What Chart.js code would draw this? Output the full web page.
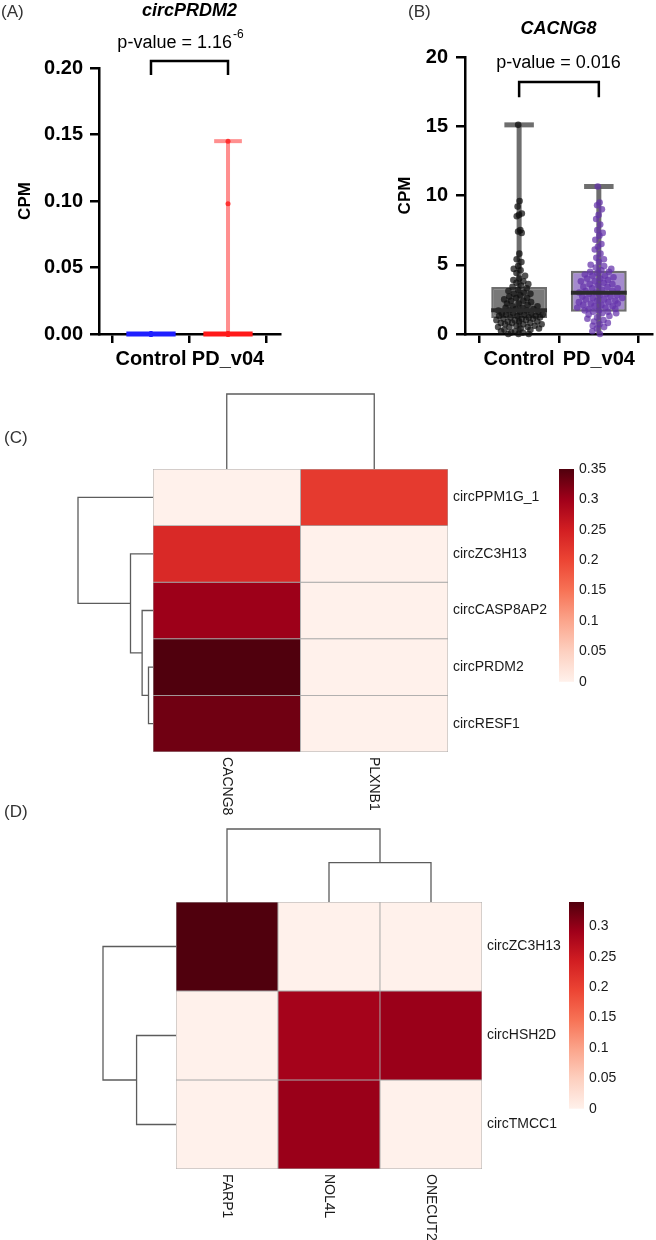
<!DOCTYPE html>
<html lang="en">
<head>
<meta charset="UTF-8">
<title>circRNA expression and correlation heatmaps</title>
<script src="https://cdn.jsdelivr.net/npm/chart.js"></script>
<style>
  body { margin: 0; background: #fff; font-family: "Liberation Sans", Arial, sans-serif; }
  #page { position: relative; width: 656px; height: 1240px; overflow: hidden; }
  canvas { position: absolute; }
  .tag { position: absolute; font-size: 17px; line-height: 20px; color: #333; }
</style>
</head>
<body>
<div id="page">
  <canvas id="chartA" width="330" height="390" style="left:0;top:0"></canvas>
  <canvas id="chartB" width="326" height="390" style="left:330px;top:0"></canvas>
  <canvas id="chartC" width="656" height="440" style="left:0;top:380px"></canvas>
  <canvas id="chartD" width="656" height="420" style="left:0;top:820px"></canvas>
  <div class="tag" style="left:1px;top:2px">(A)</div>
  <div class="tag" style="left:408px;top:2px">(B)</div>
  <div class="tag" style="left:4px;top:428px">(C)</div>
  <div class="tag" style="left:4px;top:802px">(D)</div>
</div>
<script>
Chart.defaults.font.family = '"Liberation Sans", Arial, sans-serif';
Chart.defaults.color = '#000';
const FONT = '"Liberation Sans", Arial, sans-serif';

const groups = ['Control', 'PD_v04'];

// (A) circPRDM2 CPM per sample
const controlA = [0, 0, 0, 0, 0, 0, 0, 0, 0, 0, 0, 0];
const pdA = [0, 0, 0, 0, 0, 0, 0, 0, 0, 0, 0.098, 0.145];
const q1A = [0, 0];
const medA = [0, 0];
const q3A = [0, 0];
const minA = [0, 0];
const maxA = [0, 0.145];
const yTicksA = [0, 0.05, 0.1, 0.15, 0.2];
const bracketA = [0.1947, 0.2053];

// (B) CACNG8 CPM per sample
const controlB = [15.1, 9.6, 9.2, 8.7, 8.6, 8.5, 7.5, 7.4, 7.3, 5.8, 5.4, 5.2, 4.9, 4.7, 4.6,
  4.4, 4.2, 4.0, 3.9, 3.8, 3.7, 3.6, 3.5, 3.4, 3.3, 3.2, 3.1, 3.0, 2.9, 2.9, 2.8, 2.7, 2.6,
  2.6, 2.5, 2.4, 2.4, 2.3, 2.2, 2.2, 2.1, 2.0, 2.0, 1.9, 1.9, 1.8, 1.8, 1.7, 1.7, 1.7, 1.6,
  1.6, 1.5, 1.5, 1.5, 1.4, 1.4, 1.4, 1.3, 1.3, 1.3, 1.2, 1.2, 1.2, 1.1, 1.1, 1.1, 1.0, 1.0,
  1.0, 0.9, 0.9, 0.9, 0.8, 0.8, 0.8, 0.7, 0.7, 0.7, 0.6, 0.6, 0.5, 0.5, 0.5, 0.4, 0.4, 0.3,
  0.3, 0.2, 0.2, 0.1, 0.1, 0.0, 0.0, 0.0];
const pdB = [10.65, 9.5, 9.3, 9.0, 8.6, 8.3, 7.9, 7.5, 7.3, 7.1, 6.8, 6.5, 6.3, 6.1, 5.8, 5.5,
  5.4, 5.2, 5.0, 4.9, 4.8, 4.7, 4.6, 4.5, 4.5, 4.4, 4.3, 4.2, 4.2, 4.1, 4.0, 4.0, 3.9, 3.8,
  3.8, 3.7, 3.6, 3.6, 3.5, 3.4, 3.4, 3.3, 3.3, 3.2, 3.1, 3.1, 3.0, 3.0, 2.9, 2.9, 2.8, 2.8,
  2.7, 2.7, 2.6, 2.6, 2.5, 2.5, 2.4, 2.4, 2.3, 2.3, 2.2, 2.2, 2.1, 2.1, 2.0, 2.0, 1.9, 1.9,
  1.8, 1.8, 1.7, 1.7, 1.6, 1.6, 1.5, 1.5, 1.4, 1.3, 1.2, 1.1, 1.0, 0.9, 0.8, 0.7, 0.6, 0.5,
  0.4, 0.2, 0.0];
const q1B = [1.15, 1.6];
const medB = [1.72, 2.98];
const q3B = [3.39, 4.57];
const minB = [0, 0];
const maxB = [15.1, 10.65];
const yTicksB = [0, 5, 10, 15, 20];
const bracketB = [17.1, 18.2];

// (C) correlation heatmap
const colsC = ['CACNG8', 'PLXNB1'];
const rowsC = ['circPPM1G_1', 'circZC3H13', 'circCASP8AP2', 'circPRDM2', 'circRESF1'];
const valuesC = [
  [0, 0.214],
  [0.236, 0],
  [0.302, 0],
  [0.350, 0],
  [0.330, 0]
];
// hclust style merges: negative = leaf, positive = earlier merge
const rowMergeC = [[-4, -5], [-3, 1], [-2, 2], [-1, 3]];
const rowHeightC = [0.06, 0.145, 0.30, 1];
const colMergeC = [[-1, -2]];
const colHeightC = [1];
const keyTicksC = [0, 0.05, 0.1, 0.15, 0.2, 0.25, 0.3, 0.35];

// (D) correlation heatmap
const colsD = ['FARP1', 'NOL4L', 'ONECUT2'];
const rowsD = ['circZC3H13', 'circHSH2D', 'circTMCC1'];
const valuesD = [
  [0.340, 0, 0],
  [0, 0.287, 0.295],
  [0, 0.295, 0]
];
const rowMergeD = [[-2, -3], [-1, 1]];
const rowHeightD = [0.54, 1];
const colMergeD = [[-2, -3], [-1, 1]];
const colHeightD = [0.54, 1];
const keyTicksD = [0, 0.05, 0.1, 0.15, 0.2, 0.25, 0.3];

const heatStops = ['#FFF1EB', '#FDD0C0', '#FBA58C', '#F77356', '#EC4534', '#D21E22', '#A0001A', '#50000D'];

function hexRgb(h) {
  return [1, 3, 5].map(i => parseInt(h.slice(i, i + 2), 16));
}

function heatColor(f) {
  const t = Math.max(0, Math.min(1, f)) * (heatStops.length - 1);
  const i = Math.min(Math.floor(t), heatStops.length - 2);
  const a = hexRgb(heatStops[i]), b = hexRgb(heatStops[i + 1]), k = t - i;
  const c = a.map((v, j) => Math.round(v + (b[j] - v) * k));
  return `rgb(${c[0]},${c[1]},${c[2]})`;
}

// sideways spread: wider where many values sit close together
function spreadOffsets(values, maxHalf, band) {
  return values.map((v, i) => {
    const crowd = values.filter(w => Math.abs(w - v) <= band).length;
    const half = Math.min(maxHalf, crowd * maxHalf / 25);
    return half * (((i * 0.618034) % 1) * 2 - 1);
  });
}

// title and p-value over the plot
function headerPlugin(h) {
  return {
    id: 'header',
    afterDraw(chart) {
      const { ctx, chartArea } = chart;
      const mid = (chartArea.left + chartArea.right) / 2;
      ctx.save();
      ctx.fillStyle = '#000';
      ctx.textBaseline = 'middle';
      ctx.textAlign = 'center';
      ctx.font = 'italic bold 18px ' + FONT;
      ctx.fillText(h.title, mid, h.titleY);
      ctx.font = '18px ' + FONT;
      const wMain = ctx.measureText(h.p).width;
      ctx.font = '12px ' + FONT;
      const wExp = h.exp ? ctx.measureText(h.exp).width + 1 : 0;
      const x = mid + h.pShift - (wMain + wExp) / 2;
      ctx.textAlign = 'left';
      ctx.font = '18px ' + FONT;
      ctx.fillText(h.p, x, h.pY);
      if (h.exp) {
        ctx.font = '12px ' + FONT;
        ctx.fillText(h.exp, x + wMain + 1, h.pY - 8);
      }
      ctx.restore();
    }
  };
}

function dotPlot(id, s) {
  const line = (pts, color, width) => ({
    type: 'line', data: pts, borderColor: color, borderWidth: width,
    pointRadius: 0, tension: 0, fill: false, clip: false
  });
  const datasets = [];
  // first dataset ends up on top
  groups.forEach((g, i) => datasets.push(line(
    [{ x: i - s.boxHalf, y: s.med[i] }, { x: i + s.boxHalf, y: s.med[i] }], s.medColor[i], s.medWidth)));
  [s.control, s.pd].forEach((vals, i) => {
    const off = spreadOffsets(vals, s.jitter[i], s.band);
    datasets.push({
      type: 'scatter', data: vals.map((v, k) => ({ x: i + off[k], y: v })),
      backgroundColor: s.dotColor[i], borderWidth: 0, pointRadius: s.dotRadius, clip: false
    });
  });
  groups.forEach((g, i) => {
    datasets.push(line([{ x: i, y: s.min[i] }, { x: i, y: s.max[i] }], s.whiskColor[i], s.whiskWidth));
    datasets.push(line([{ x: i - s.capHalf, y: s.max[i] }, { x: i + s.capHalf, y: s.max[i] }], s.whiskColor[i], s.whiskWidth));
  });
  datasets.push({
    type: 'bar', data: groups.map((g, i) => ({ x: i, y: [s.q1[i], s.q3[i]] })),
    backgroundColor: s.boxFill, borderColor: s.boxLine, borderWidth: s.boxLineWidth,
    borderSkipped: false, categoryPercentage: 1, barPercentage: s.boxHalf * 2
  });
  const br = s.bracket;
  datasets.push(line(
    [{ x: 0, y: br[0] }, { x: 0, y: br[1] }, { x: 1, y: br[1] }, { x: 1, y: br[0] }], '#000', 2.5));

  const axisGrid = { drawOnChartArea: false, tickLength: 9, color: '#000', lineWidth: 2.5 };
  new Chart(document.getElementById(id), {
    type: 'scatter',
    data: { datasets },
    options: {
      responsive: false,
      animation: false,
      events: [],
      layout: { padding: { top: s.top, right: s.right, left: 0, bottom: 0 } },
      plugins: { legend: { display: false }, tooltip: { enabled: false } },
      scales: {
        x: {
          type: 'linear', min: s.xMin, max: s.xMax, offset: false,
          afterBuildTicks: sc => { sc.ticks = groups.map((g, i) => ({ value: i })); },
          afterFit: sc => { sc.height = 56; },
          ticks: { callback: v => groups[v], font: { size: 20, weight: 'bold' }, color: '#000', padding: 4, maxRotation: 0, autoSkip: false },
          grid: axisGrid,
          border: { color: '#000', width: 2.5 }
        },
        y: {
          min: s.yTicks[0], max: s.yTicks[s.yTicks.length - 1],
          afterBuildTicks: sc => { sc.ticks = s.yTicks.map(v => ({ value: v })); },
          afterFit: sc => { sc.width = s.yAxisW; },
          ticks: { callback: v => s.yLabel(v), font: { size: 20, weight: 'bold' }, color: '#000', padding: s.yPad },
          grid: axisGrid,
          border: { color: '#000', width: 2.5 },
          title: { display: true, text: 'CPM', color: '#000', font: { size: 17, weight: 'bold' }, padding: { top: s.titlePad, bottom: 0 } }
        }
      }
    },
    plugins: [headerPlugin(s.head)]
  });
}

dotPlot('chartA', {
  control: controlA, pd: pdA, q1: q1A, med: medA, q3: q3A, min: minA, max: maxA,
  yTicks: yTicksA, yLabel: v => v.toFixed(2), bracket: bracketA,
  xMin: -0.675, xMax: 1.675, top: 68, right: 50, yAxisW: 99, yPad: 7, titlePad: 15,
  jitter: [0, 0], band: 0.01, dotRadius: 2.5,
  dotColor: ['rgba(30,30,255,0.9)', 'rgba(255,40,40,0.9)'],
  medColor: ['#1f1fff', '#ff1a1a'], medWidth: 5, boxHalf: 0.32,
  whiskColor: ['rgba(120,120,255,0.6)', 'rgba(255,105,105,0.75)'], whiskWidth: 4, capHalf: 0.18,
  boxFill: 'rgba(0,0,0,0)', boxLine: 'rgba(0,0,0,0)', boxLineWidth: 0,
  head: { title: 'circPRDM2', titleY: 11, p: 'p-value = 1.16', exp: '-6', pY: 43, pShift: -9 }
});

dotPlot('chartB', {
  control: controlB, pd: pdB, q1: q1B, med: medB, q3: q3B, min: minB, max: maxB,
  yTicks: yTicksB, yLabel: v => String(v), bracket: bracketB,
  xMin: -0.679, xMax: 1.667, top: 57, right: 1, yAxisW: 135, yPad: 8, titlePad: 65,
  jitter: [0.3, 0.34], band: 0.5, dotRadius: 3.3,
  dotColor: ['rgba(15,15,15,0.72)', 'rgba(100,50,170,0.72)'],
  medColor: ['#2b2b2b', '#2b2b2b'], medWidth: 4, boxHalf: 0.35,
  whiskColor: ['rgba(85,85,85,0.85)', 'rgba(85,85,85,0.85)'], whiskWidth: 5, capHalf: 0.185,
  boxFill: ['rgba(75,75,75,0.75)', 'rgba(135,100,190,0.75)'], boxLine: 'rgba(95,95,95,0.9)', boxLineWidth: 2.5,
  head: { title: 'CACNG8', titleY: 29, p: 'p-value = 0.016', exp: '', pY: 63, pShift: 0 }
});

function drawTree(ctx, merge, heights, leafPos, size, place) {
  const top = Math.max(...heights);
  const pos = [], lvl = [];
  const node = k => (k < 0 ? [leafPos[-k - 1], 0] : [pos[k - 1], lvl[k - 1]]);
  merge.forEach((m, i) => {
    const a = node(m[0]), b = node(m[1]);
    const d = heights[i] / top * size;
    ctx.beginPath();
    ctx.moveTo(...place(a[0], a[1]));
    ctx.lineTo(...place(a[0], d));
    ctx.lineTo(...place(b[0], d));
    ctx.lineTo(...place(b[0], b[1]));
    ctx.stroke();
    pos.push((a[0] + b[0]) / 2);
    lvl.push(d);
  });
}

// dendrograms, column names and colour key around the heatmap
function treePlugin(h) {
  return {
    id: 'tree',
    afterDraw(chart) {
      const { ctx, chartArea: a, scales } = chart;
      const colPos = h.cols.map((c, i) => scales.x.getPixelForValue(i));
      const rowPos = h.rows.map((r, i) => scales.y.getPixelForValue(i + 0.5));
      ctx.save();
      ctx.strokeStyle = '#5c5c5c';
      ctx.lineWidth = 1.3;
      drawTree(ctx, h.colMerge, h.colHeight, colPos, h.tree, (p, d) => [p, a.top - d]);
      drawTree(ctx, h.rowMerge, h.rowHeight, rowPos, h.tree, (p, d) => [a.left - d, p]);

      ctx.fillStyle = '#1a1a1a';
      ctx.font = '14px ' + FONT;
      ctx.textAlign = 'left';
      ctx.textBaseline = 'middle';
      h.cols.forEach((c, i) => {
        ctx.save();
        ctx.translate(colPos[i], a.bottom + 5);
        ctx.rotate(Math.PI / 2);
        ctx.fillText(c, 0, 0);
        ctx.restore();
      });

      const bx = a.right + h.keyGap, by = a.top, bw = 15, bh = h.max * 608;
      const g = ctx.createLinearGradient(0, by + bh, 0, by);
      heatStops.forEach((c, i) => g.addColorStop(i / (heatStops.length - 1), c));
      ctx.fillStyle = g;
      ctx.fillRect(bx, by, bw, bh);
      ctx.fillStyle = '#1a1a1a';
      h.keyTicks.forEach(t => ctx.fillText(String(t), bx + bw + 5, by + bh - t / h.max * bh));
      ctx.restore();
    }
  };
}

function heatmap(id, h) {
  const datasets = h.rows.map((r, ri) => ({
    label: r,
    data: h.cols.map(() => 1),
    backgroundColor: h.values[ri].map(v => heatColor(v / h.max)),
    borderColor: '#A9A9A9',
    borderWidth: 0.8,
    borderSkipped: false,
    categoryPercentage: 1,
    barPercentage: 1
  }));
  new Chart(document.getElementById(id), {
    type: 'bar',
    data: { labels: h.cols, datasets },
    options: {
      responsive: false,
      animation: false,
      events: [],
      layout: { padding: { left: h.left, top: h.top, bottom: h.bottom, right: 0 } },
      plugins: { legend: { display: false }, tooltip: { enabled: false } },
      scales: {
        x: { stacked: true, display: false },
        y: {
          stacked: true, reverse: true, min: 0, max: h.rows.length, position: 'right',
          afterBuildTicks: sc => { sc.ticks = h.rows.map((r, i) => ({ value: i + 0.5 })); },
          afterFit: sc => { sc.width = h.rightW; },
          ticks: { callback: v => h.rows[Math.floor(v)], font: { size: 14 }, color: '#1a1a1a', padding: 5 },
          grid: { display: false, drawTicks: false },
          border: { display: false }
        }
      }
    },
    plugins: [treePlugin(h)]
  });
}

heatmap('chartC', {
  cols: colsC, rows: rowsC, values: valuesC, max: 0.35,
  rowMerge: rowMergeC, rowHeight: rowHeightC, colMerge: colMergeC, colHeight: colHeightC,
  keyTicks: keyTicksC, keyGap: 111, tree: 75,
  left: 153, top: 89, bottom: 68, rightW: 208
});

heatmap('chartD', {
  cols: colsD, rows: rowsD, values: valuesD, max: 0.34,
  rowMerge: rowMergeD, rowHeight: rowHeightD, colMerge: colMergeD, colHeight: colHeightD,
  keyTicks: keyTicksD, keyGap: 87, tree: 73,
  left: 176, top: 82, bottom: 71, rightW: 174
});
</script>
</body>
</html>
